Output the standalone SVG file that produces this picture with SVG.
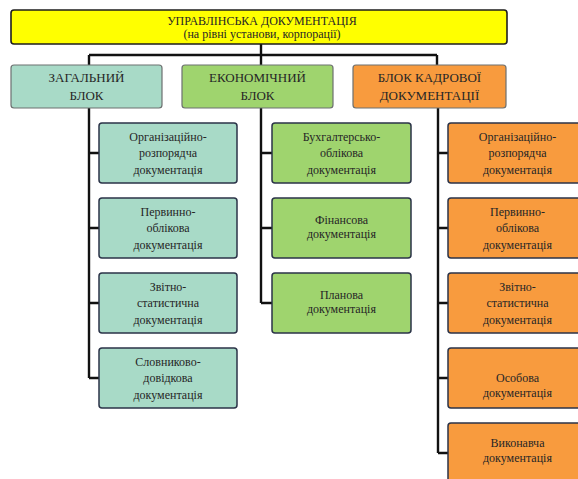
<svg xmlns="http://www.w3.org/2000/svg" width="578" height="479" viewBox="0 0 578 479">
<style>
text{font-family:"Liberation Serif","DejaVu Serif",serif;text-anchor:middle;fill:#262626}
.t{font-size:12px}
.h{font-size:13px}
.c{font-size:12px}
.teal{fill:#A8DAC7}
.green{fill:#9FD46E}
.orange{fill:#F89B3E}
.top{fill:#FFFF00;stroke:#1e1e1e;stroke-width:1.6}
.l2{stroke:#6d7070;stroke-width:1.2}
.ch{stroke:#2b3348;stroke-width:1.5}
.conn{fill:none;stroke:#111;stroke-width:2.4}
</style>
<g id="connectors" class="conn">
<path d="M261 44V55M89 55H437M89 55V65M261 55V65M437 55V65"/>
<path d="M89 108V378M89 153H99M89 228H99M89 303H99M89 378H99"/>
<path d="M261 108V303M261 153H272M261 228H272M261 303H272"/>
<path d="M438 108V453M438 153H448M438 228H448M438 303H448M438 378H448M438 453H448"/>
</g>
<g id="root"><rect class="top" x="11" y="10" width="496" height="34" rx="3"/>
<text class="t" x="262" y="25">УПРАВЛІНСЬКА ДОКУМЕНТАЦІЯ</text>
<text class="t" x="262" y="38">(на рівні установи, корпорації)</text></g>
<g id="general"><rect class="teal l2" x="11" y="65" width="151" height="43" rx="3"/>
<text class="h" x="86.5" y="82">ЗАГАЛЬНИЙ</text><text class="h" x="86.5" y="100">БЛОК</text></g>
<g id="economic"><rect class="green l2" x="182" y="65" width="151" height="43" rx="3"/>
<text class="h" x="257.5" y="82">ЕКОНОМІЧНИЙ</text><text class="h" x="257.5" y="100">БЛОК</text></g>
<g id="hr"><rect class="orange l2" x="353" y="65" width="153" height="43" rx="3"/>
<text class="h" x="429.5" y="82">БЛОК КАДРОВОЇ</text><text class="h" x="429.5" y="100">ДОКУМЕНТАЦІЇ</text></g>

<g id="g1"><rect class="teal ch" x="99" y="123" width="138" height="60" rx="3"/>
<text class="c" x="168" y="141">Організаційно-</text><text class="c" x="168" y="157">розпорядча</text><text class="c" x="168" y="174">документація</text></g>
<g id="g2"><rect class="teal ch" x="99" y="198" width="138" height="60" rx="3"/>
<text class="c" x="168" y="216">Первинно-</text><text class="c" x="168" y="232">облікова</text><text class="c" x="168" y="249">документація</text></g>
<g id="g3"><rect class="teal ch" x="99" y="273" width="138" height="60" rx="3"/>
<text class="c" x="168" y="291">Звітно-</text><text class="c" x="168" y="307">статистична</text><text class="c" x="168" y="324">документація</text></g>
<g id="g4"><rect class="teal ch" x="99" y="348" width="138" height="60" rx="3"/>
<text class="c" x="168" y="366">Словниково-</text><text class="c" x="168" y="382">довідкова</text><text class="c" x="168" y="399">документація</text></g>

<g id="e1"><rect class="green ch" x="272" y="123" width="139" height="60" rx="3"/>
<text class="c" x="341.5" y="141">Бухгалтерсько-</text><text class="c" x="341.5" y="157">облікова</text><text class="c" x="341.5" y="174">документація</text></g>
<g id="e2"><rect class="green ch" x="272" y="198" width="139" height="60" rx="3"/>
<text class="c" x="341.5" y="224">Фінансова</text><text class="c" x="341.5" y="238">документація</text></g>
<g id="e3"><rect class="green ch" x="272" y="273" width="139" height="60" rx="3"/>
<text class="c" x="341.5" y="299">Планова</text><text class="c" x="341.5" y="313">документація</text></g>

<g id="k1"><rect class="orange ch" x="448" y="123" width="139" height="60" rx="3"/>
<text class="c" x="517.5" y="141">Організаційно-</text><text class="c" x="517.5" y="157">розпорядча</text><text class="c" x="517.5" y="174">документація</text></g>
<g id="k2"><rect class="orange ch" x="448" y="198" width="139" height="60" rx="3"/>
<text class="c" x="517.5" y="216">Первинно-</text><text class="c" x="517.5" y="232">облікова</text><text class="c" x="517.5" y="249">документація</text></g>
<g id="k3"><rect class="orange ch" x="448" y="273" width="139" height="60" rx="3"/>
<text class="c" x="517.5" y="291">Звітно-</text><text class="c" x="517.5" y="307">статистична</text><text class="c" x="517.5" y="324">документація</text></g>
<g id="k4"><rect class="orange ch" x="448" y="348" width="139" height="60" rx="3"/>
<text class="c" x="517.5" y="382">Особова</text><text class="c" x="517.5" y="397">документація</text></g>
<g id="k5"><rect class="orange ch" x="448" y="423" width="139" height="60" rx="3"/>
<text class="c" x="517.5" y="447">Виконавча</text><text class="c" x="517.5" y="462">документація</text></g>
</svg>
